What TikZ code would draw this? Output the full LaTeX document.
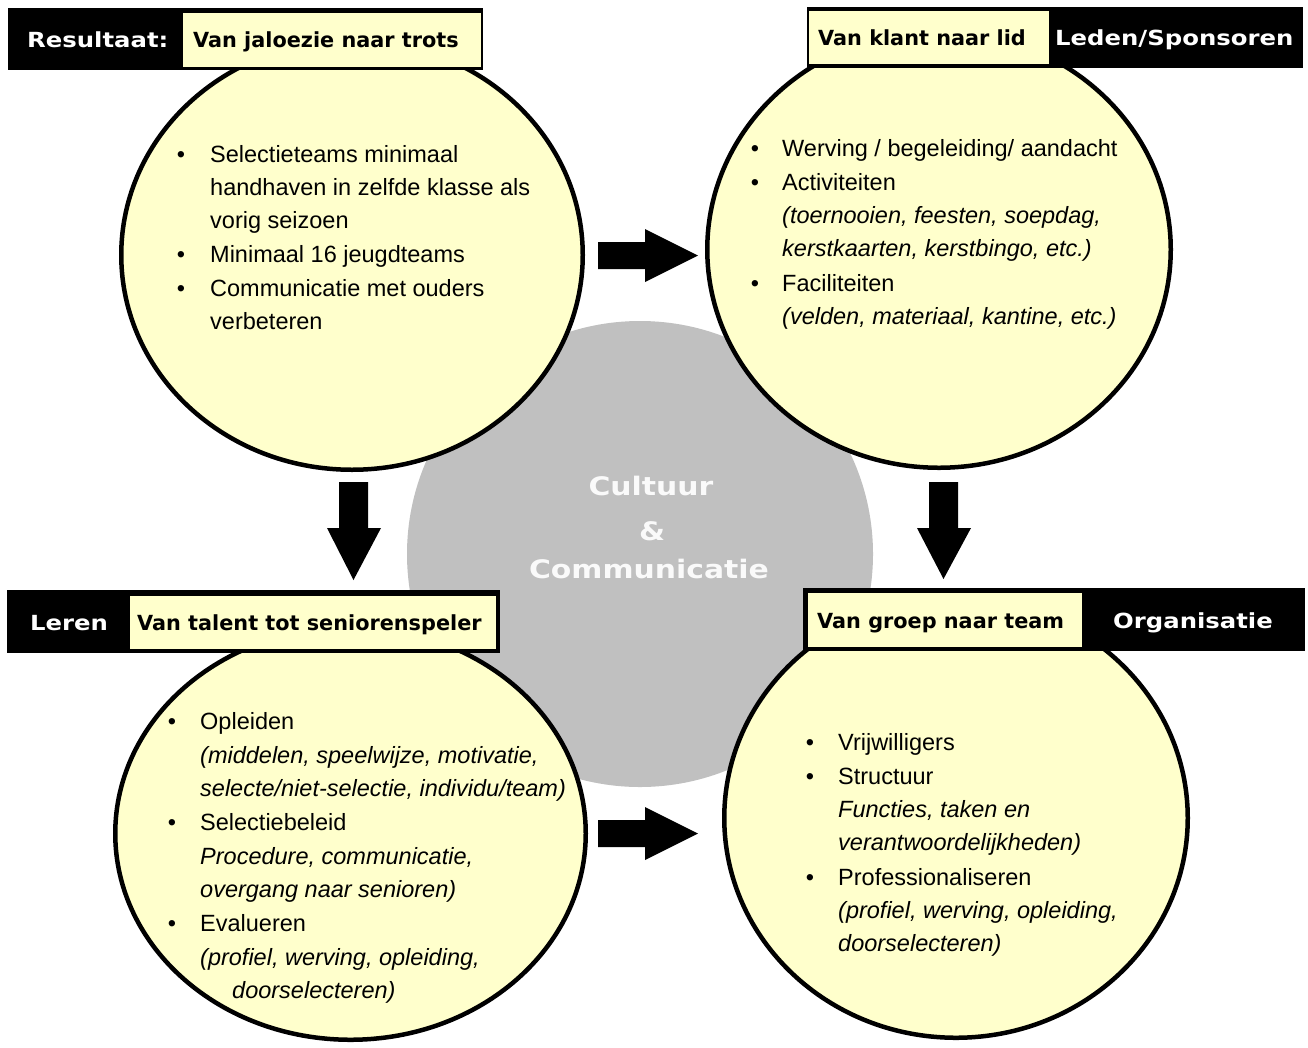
\documentclass[tikz,border=0pt]{standalone}
\usepackage{fontspec}
\usetikzlibrary{shapes.geometric}
\setmainfont{Liberation Sans}
\newfontfamily\hdrfont{DejaVu Sans}[FakeStretch=1.17]
\newfontfamily\hdrplain{DejaVu Sans}
\definecolor{cyel}{HTML}{FFFFCC}
\definecolor{cgry}{HTML}{C0C0C0}
\tikzset{
  ycirc/.style={ellipse, draw=black, line width=4.5pt, fill=cyel, inner sep=0pt},
  gcirc/.style={circle, fill=cgry, inner sep=0pt},
  bar/.style={rectangle, fill=black, inner sep=0pt},
  ybox/.style={rectangle, draw=black, line width=2pt, fill=cyel, inner sep=0pt},
  wtxt/.style={text=white, font=\hdrfont\bfseries\fontsize{20.8}{24}\selectfont, anchor=base west, inner sep=0pt},
  btxt/.style={text=black, font=\hdrplain\bfseries\fontsize{20.8}{24}\selectfont, anchor=base west, inner sep=0pt},
  ctxt/.style={text=white!96!gray, font=\hdrfont\bfseries\fontsize{25.5}{28}\selectfont, anchor=base, inner sep=0pt},
  body/.style={font=\fontsize{23.5}{28}\selectfont, anchor=base west, inner sep=0pt},
  ital/.style={font=\fontsize{23.5}{28}\selectfont\itshape, anchor=base west, inner sep=0pt},
  bul/.style={font=\fontsize{23.5}{28}\selectfont, anchor=base, inner sep=0pt},
  blockarrow/.style={fill=black}
}
\begin{document}
\begin{tikzpicture}[x=1pt,y=-1pt]
\useasboundingbox (0,0) rectangle (1308,1047);
\fill[white] (0,0) rectangle (1308,1047);

% central circle
\node[gcirc, minimum size=466pt] (center) at (640,554) {};
\node[ctxt] (c1) at (651,495) {Cultuur};
\node[ctxt] (c2) at (652,540) {\&};
\node[ctxt] (c3) at (649,578) {Communicatie};

% yellow circles
\node[ycirc, minimum width=461.5pt, minimum height=429.5pt] (cTL) at (352,255) {};
\node[ycirc, minimum width=463.5pt, minimum height=436.5pt] (cTR) at (939,249.5) {};
\node[ycirc, minimum width=470.5pt, minimum height=412.5pt] (cBL) at (350.5,833.5) {};
\node[ycirc, minimum width=463.5pt, minimum height=439.5pt] (cBR) at (956,818) {};

% headers
\node[bar, minimum width=475pt, minimum height=62pt] (barTL) at (245.5,39) {};
\node[ybox, minimum width=300pt, minimum height=56pt] (boxTL) at (331.5,39.5) {};
\node[wtxt] (tTL1) at (27,47) {Resultaat:};
\node[btxt] (tTL2) at (193,47) {Van jaloezie naar trots};

\node[bar, minimum width=496pt, minimum height=61pt] (barTR) at (1055,37.5) {};
\node[ybox, minimum width=242pt, minimum height=55pt] (boxTR) at (929,37.5) {};
\node[btxt] (tTR1) at (818,45) {Van klant naar lid};
\node[wtxt] (tTR2) at (1055,45) {Leden/Sponsoren};

\node[bar, minimum width=493pt, minimum height=63pt] (barBL) at (253.5,621.5) {};
\node[ybox, minimum width=368pt, minimum height=55pt] (boxBL) at (313,622.5) {};
\node[wtxt] (tBL1) at (30,630) {Leren};
\node[btxt] (tBL2) at (137,630) {Van talent tot seniorenspeler};

\node[bar, minimum width=502pt, minimum height=63pt] (barBR) at (1054,619.5) {};
\node[ybox, minimum width=276pt, minimum height=56pt] (boxBR) at (945,620) {};
\node[btxt] (tBR1) at (817,628) {Van groep naar team};
\node[wtxt] (tBR2) at (1113,628) {Organisatie};

% arrows
\fill[blockarrow] (598,242) -- (645,242) -- (645,229) -- (698,255.5) -- (645,282) -- (645,269) -- (598,269) -- cycle;
\fill[blockarrow] (598,820) -- (645,820) -- (645,807) -- (698,833.5) -- (645,860) -- (645,847) -- (598,847) -- cycle;
\fill[blockarrow] (339,482) -- (368,482) -- (368,528) -- (381,528) -- (353.5,580) -- (327,528) -- (339,528) -- cycle;
\fill[blockarrow] (929,482) -- (958,482) -- (958,528) -- (971,528) -- (943.5,579) -- (917,528) -- (929,528) -- cycle;

% text TL
\node[bul] (bTL1) at (181,162) {•};
\node[body] (lTL1) at (210,162) {Selectieteams minimaal};
\node[body] (lTL2) at (210,195) {handhaven in zelfde klasse als};
\node[body] (lTL3) at (210,228) {vorig seizoen};
\node[bul] (bTL2) at (181,262) {•};
\node[body] (lTL4) at (210,262) {Minimaal 16 jeugdteams};
\node[bul] (bTL3) at (181,296) {•};
\node[body] (lTL5) at (210,296) {Communicatie met ouders};
\node[body] (lTL6) at (210,329) {verbeteren};

% text TR
\node[bul] (bTR1) at (755,156) {•};
\node[body] (lTR1) at (782,156) {Werving / begeleiding/ aandacht};
\node[bul] (bTR2) at (755,190) {•};
\node[body] (lTR2) at (782,190) {Activiteiten};
\node[ital] (lTR3) at (782,223) {(toernooien, feesten, soepdag,};
\node[ital] (lTR4) at (782,256) {kerstkaarten, kerstbingo, etc.)};
\node[bul] (bTR3) at (755,291) {•};
\node[body] (lTR5) at (782,291) {Faciliteiten};
\node[ital] (lTR6) at (782,324) {(velden, materiaal, kantine, etc.)};

% text BL
\node[bul] (bBL1) at (172,729) {•};
\node[body] (lBL1) at (200,729) {Opleiden};
\node[ital] (lBL2) at (200,763) {(middelen, speelwijze, motivatie,};
\node[ital] (lBL3) at (200,796) {selecte/niet-selectie, individu/team)};
\node[bul] (bBL2) at (172,830) {•};
\node[body] (lBL4) at (200,830) {Selectiebeleid};
\node[ital] (lBL5) at (200,864) {Procedure, communicatie,};
\node[ital] (lBL6) at (200,897) {overgang naar senioren)};
\node[bul] (bBL3) at (172,931) {•};
\node[body] (lBL7) at (200,931) {Evalueren};
\node[ital] (lBL8) at (200,965) {(profiel, werving, opleiding,};
\node[ital] (lBL9) at (232,998) {doorselecteren)};

% text BR
\node[bul] (bBR1) at (810,750) {•};
\node[body] (lBR1) at (838,750) {Vrijwilligers};
\node[bul] (bBR2) at (810,784) {•};
\node[body] (lBR2) at (838,784) {Structuur};
\node[ital] (lBR3) at (838,817) {Functies, taken en};
\node[ital] (lBR4) at (838,850) {verantwoordelijkheden)};
\node[bul] (bBR3) at (810,885) {•};
\node[body] (lBR5) at (838,885) {Professionaliseren};
\node[ital] (lBR6) at (838,918) {(profiel, werving, opleiding,};
\node[ital] (lBR7) at (838,951) {doorselecteren)};
\end{tikzpicture}
\end{document}
